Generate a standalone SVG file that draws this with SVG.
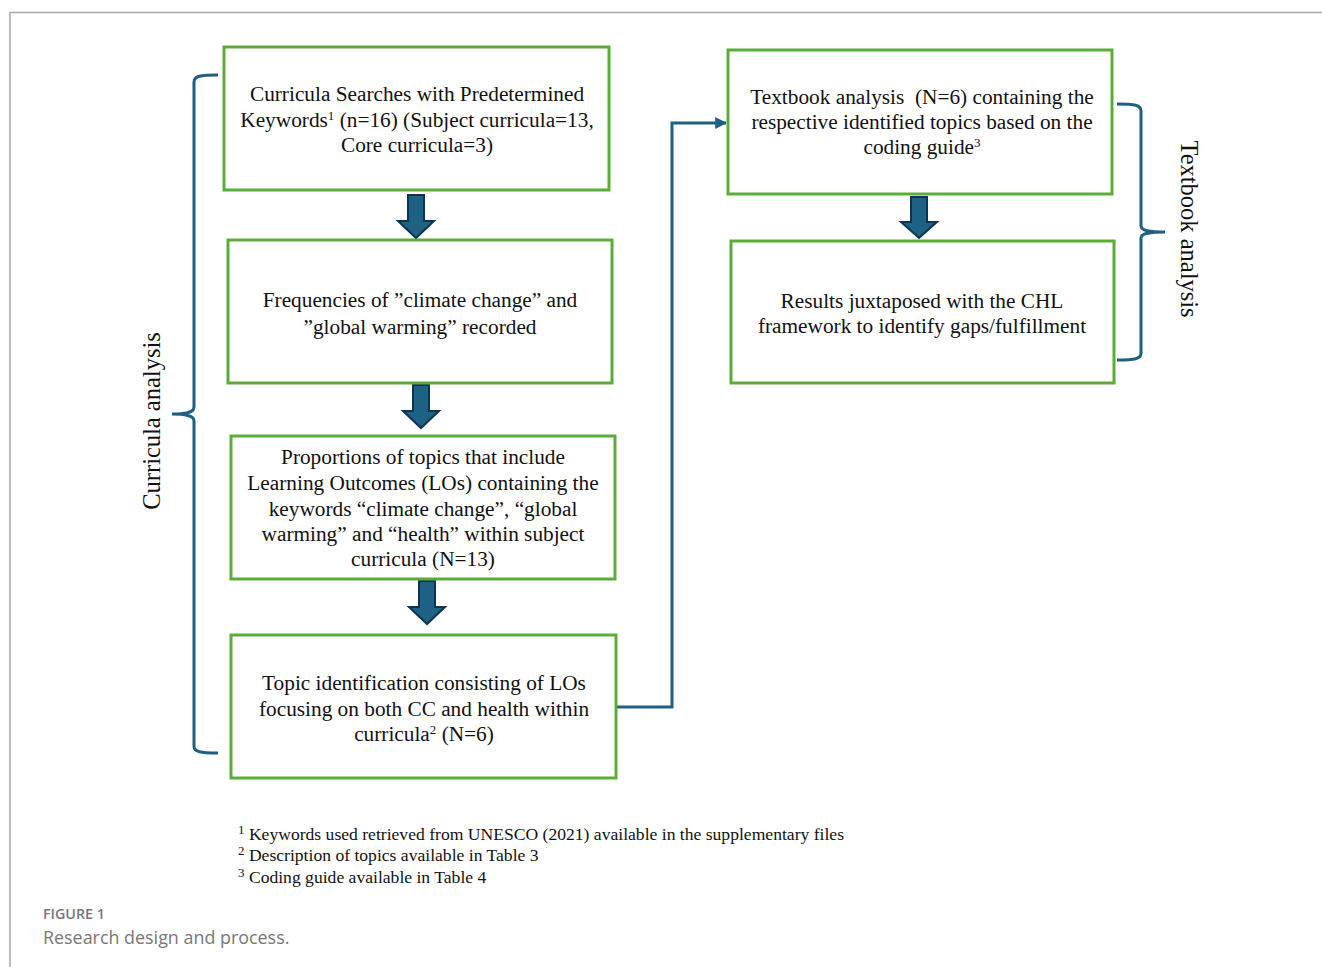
<svg xmlns="http://www.w3.org/2000/svg" width="1322" height="967" viewBox="0 0 1322 967">
<defs>
<style>
.box{fill:#ffffff;stroke:#5aad37;stroke-width:3}
.t{font-family:"Liberation Serif","Times New Roman",serif;font-size:21.3px;fill:#111;text-anchor:middle}
.lab{font-family:"Liberation Serif","Times New Roman",serif;font-size:24.5px;fill:#111;text-anchor:middle}
.fn{font-family:"Liberation Serif","Times New Roman",serif;font-size:17.6px;fill:#111}
.sup{font-size:13px}
.blk{fill:#1d6184;stroke:#0e3550;stroke-width:2;stroke-linejoin:miter}
.br{fill:none;stroke:#1f5f82;stroke-width:3}
.con{fill:none;stroke:#1f5f82;stroke-width:3}
</style>
<marker id="ah" viewBox="0 0 10 10" refX="9" refY="5" markerWidth="4" markerHeight="4" orient="auto" markerUnits="strokeWidth">
<path d="M0,0 L10,5 L0,10 z" fill="#1f5f82"/>
</marker>
</defs>
<rect width="1322" height="967" fill="#ffffff"/>
<path d="M10,967 V12.5 H1322" fill="none" stroke="#a8a8a8" stroke-width="1.5"/>

<g id="connectors">
<path class="con" d="M616,707 H672 V123 H726" marker-end="url(#ah)"/>
<path class="blk" d="M408,195 H424 V221 H434 L416,238 L398,221 H408 Z"/>
<path class="blk" d="M413,385 H429 V411 H439 L421,428 L403,411 H413 Z"/>
<path class="blk" d="M419,581 H435 V607 H445 L427,624 L409,607 H419 Z"/>
<path class="blk" d="M911,197 H927 V222 H937 L919,238 L901,222 H911 Z"/>
</g>

<g id="brace-curricula">
<path class="br" d="M218,75 C200,75 194,76 194,82 V407 C194,412 188,414 172,414 C188,414 194,416 194,421 V746 C194,752 200,753 218,753"/>
<text class="lab" transform="translate(160,421) rotate(-90)">Curricula analysis</text>
</g>

<g id="brace-textbook">
<path class="br" d="M1117,104 C1135,104 1141,105 1141,111 V226 C1141,230 1147,232 1165,232 C1147,232 1141,234 1141,238 V353 C1141,359 1135,360 1117,360"/>
<text class="lab" transform="translate(1181,229) rotate(90)">Textbook analysis</text>
</g>

<g id="node1">
<rect class="box" x="224" y="47" width="385" height="143"/>
<text class="t" x="417" y="101">Curricula Searches with Predetermined</text>
<text class="t" x="417" y="127">Keywords<tspan class="sup" dy="-7">1</tspan><tspan dy="7"> (n=16) (Subject curricula=13,</tspan></text>
<text class="t" x="417" y="152">Core curricula=3)</text>
</g>

<g id="node2">
<rect class="box" x="228" y="240" width="384" height="143"/>
<text class="t" x="420" y="307">Frequencies of ”climate change” and</text>
<text class="t" x="420" y="334">”global warming” recorded</text>
</g>

<g id="node3">
<rect class="box" x="231" y="436" width="384" height="143"/>
<text class="t" x="423" y="464">Proportions of topics that include</text>
<text class="t" x="423" y="490">Learning Outcomes (LOs) containing the</text>
<text class="t" x="423" y="516">keywords “climate change”, “global</text>
<text class="t" x="423" y="541">warming” and “health” within subject</text>
<text class="t" x="423" y="566">curricula (N=13)</text>
</g>

<g id="node4">
<rect class="box" x="231" y="635" width="385" height="143"/>
<text class="t" x="424" y="690">Topic identification consisting of LOs</text>
<text class="t" x="424" y="716">focusing on both CC and health within</text>
<text class="t" x="424" y="741">curricula<tspan class="sup" dy="-7">2</tspan><tspan dy="7"> (N=6)</tspan></text>
</g>

<g id="node5">
<rect class="box" x="728" y="50" width="384" height="144"/>
<text class="t" x="922" y="104" style="white-space:pre">Textbook analysis  (N=6) containing the</text>
<text class="t" x="922" y="129">respective identified topics based on the</text>
<text class="t" x="922" y="154">coding guide<tspan class="sup" dy="-7">3</tspan></text>
</g>

<g id="node6">
<rect class="box" x="731" y="241" width="383" height="142"/>
<text class="t" x="922" y="308">Results juxtaposed with the CHL</text>
<text class="t" x="922" y="333">framework to identify gaps/fulfillment</text>
</g>

<g id="footnotes">
<text class="fn" x="238" y="840"><tspan class="sup" dy="-6">1</tspan><tspan dy="6"> Keywords used retrieved from UNESCO (2021) available in the supplementary files</tspan></text>
<text class="fn" x="238" y="861"><tspan class="sup" dy="-6">2</tspan><tspan dy="6"> Description of topics available in Table 3</tspan></text>
<text class="fn" x="238" y="883"><tspan class="sup" dy="-6">3</tspan><tspan dy="6"> Coding guide available in Table 4</tspan></text>
</g>

<g id="caption">
<text x="43" y="919" font-family="'Open Sans',sans-serif" font-size="14.3" font-weight="600" fill="#777777">FIGURE 1</text>
<text x="43" y="944" font-family="'Open Sans',sans-serif" font-size="17.9" fill="#777777">Research design and process.</text>
</g>
</svg>
